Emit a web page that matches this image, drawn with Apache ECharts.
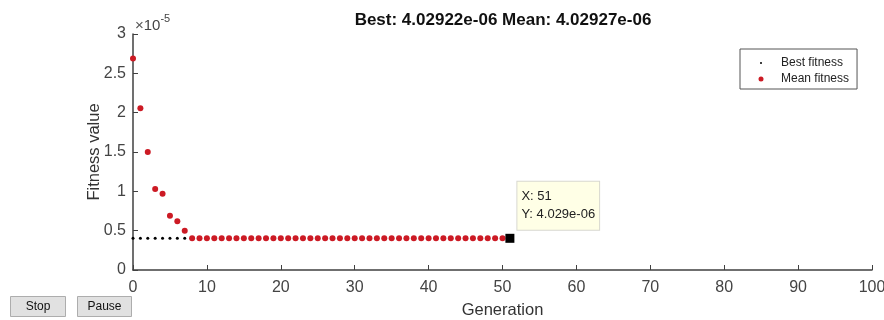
<!DOCTYPE html>
<html>
<head>
<meta charset="utf-8">
<script src="https://cdn.jsdelivr.net/npm/echarts@6/dist/echarts.min.js"></script>
<style>
  html, body { margin: 0; padding: 0; background: #fff; }
  #chart { width: 884px; height: 320px; }
</style>
</head>
<body>
<div id="chart"></div>
<script>
// generations 0..51
var generations = [];
for (var g = 0; g <= 51; g++) generations.push(g);

// mean fitness (units of 1e-5 applied below)
var meanHead = [2.69, 2.055, 1.50, 1.03, 0.97, 0.69, 0.62, 0.50];
var meanTail = 0.403;
var bestValue = 0.403;
var scale = 1e-5;

var meanData = generations.map(function (g) {
  var v = g < meanHead.length ? meanHead[g] : meanTail;
  return [g, v * scale];
});
var bestData = generations.map(function (g) { return [g, bestValue * scale]; });

var cursorPoint = [51, 4.029e-6];
var titleText = 'Best: 4.02922e-06 Mean: 4.02927e-06';

var font = '"Liberation Sans", Arial, sans-serif';
var axisColor = '#404040';

var chart = echarts.init(document.getElementById('chart'));
var option = {
  backgroundColor: '#fff',
  animation: false,
  textStyle: { fontFamily: font },
  title: {
    text: titleText,
    left: 498, top: 7, textAlign: 'center',
    textStyle: { fontFamily: font, fontSize: 17, fontWeight: 'bold', color: '#111' }
  },
  legend: {
    orient: 'vertical',
    left: 740, top: 49,
    padding: [8, 8, 4, 6],
    itemGap: 4,
    itemWidth: 30, itemHeight: 10,
    borderColor: '#555', borderWidth: 1, borderRadius: 0,
    backgroundColor: '#fff',
    textStyle: { fontFamily: font, fontSize: 12, color: '#222' },
    data: [
      { name: 'Best fitness', icon: 'path://M0 0M30 10M14 5a1 1 0 1 0 2 0a1 1 0 1 0 -2 0z' },
      { name: 'Mean fitness', icon: 'path://M0 0M30 10M12.5 5a2.5 2.5 0 1 0 5 0a2.5 2.5 0 1 0 -5 0z' }
    ]
  },
  grid: { left: 133, right: 12, top: 34, bottom: 50, outerBoundsMode: 'none', containLabel: false },
  xAxis: {
    type: 'value', min: 0, max: 100, interval: 10,
    name: 'Generation', nameLocation: 'middle', nameGap: 32, nameMoveOverlap: false,
    nameTextStyle: { fontFamily: font, fontSize: 16.5, color: '#333' },
    axisLine: { lineStyle: { color: axisColor, width: 1.5 } },
    axisTick: { inside: true, length: 5, lineStyle: { color: axisColor } },
    axisLabel: { fontFamily: font, fontSize: 16, color: '#444', margin: 10 },
    splitLine: { show: false }
  },
  yAxis: {
    type: 'value', min: 0, max: 3e-5, interval: 0.5e-5,
    name: 'Fitness value', nameLocation: 'middle', nameGap: 30, nameMoveOverlap: false,
    nameTextStyle: { fontFamily: font, fontSize: 16.5, color: '#333' },
    axisLine: { show: true, lineStyle: { color: axisColor, width: 1.5 } },
    axisTick: { show: true, inside: true, length: 5, lineStyle: { color: axisColor } },
    axisLabel: {
      fontFamily: font, fontSize: 16, color: '#444', margin: 7,
      formatter: function (v) { return String(+(v / scale).toFixed(2)); }
    },
    splitLine: { show: false }
  },
  series: [
    {
      name: 'Best fitness', type: 'scatter', data: bestData,
      symbol: 'circle', symbolSize: 3,
      itemStyle: { color: '#000', opacity: 1 }, z: 2
    },
    {
      name: 'Mean fitness', type: 'scatter', data: meanData,
      symbol: 'circle', symbolSize: 6,
      itemStyle: { color: '#cc1a24', opacity: 1 }, z: 3
    },
    {
      name: 'cursor', type: 'scatter', data: [cursorPoint],
      symbol: 'rect', symbolSize: 9,
      itemStyle: { color: '#000', opacity: 1 }, z: 5,
      label: {
        show: true, position: [12, -52],
        formatter: function (p) {
          return 'X: ' + p.value[0] + '\nY: ' + p.value[1].toExponential(3).replace('e-6', 'e-06');
        },
        fontFamily: font, fontSize: 13, color: '#222', lineHeight: 18,
        backgroundColor: '#ffffe6', borderColor: '#d8d8d0', borderWidth: 1,
        padding: [6, 4, 6, 4], align: 'left'
      }
    }
  ],
  graphic: [
    {
      type: 'text', left: 135, top: 13,
      style: {
        text: '{x|×}{b|10}{s|-5}',
        rich: {
          x: { fontFamily: font, fontSize: 15, fill: '#555', padding: [5, 0, 0, 0] },
          b: { fontFamily: font, fontSize: 15, fill: '#444', padding: [5, 0, 0, 0] },
          s: { fontFamily: font, fontSize: 11, fill: '#444', verticalAlign: 'top' }
        }
      }
    },
    {
      type: 'group', left: 10, top: 296,
      children: [
        { type: 'rect', shape: { x: 0, y: 0, width: 55, height: 20 },
          style: { fill: '#e1e1e1', stroke: '#adadad', lineWidth: 1 } },
        { type: 'text', x: 27.5, y: 10,
          style: { text: 'Stop', fontFamily: font, fontSize: 12, fill: '#111', align: 'center', verticalAlign: 'middle' } }
      ]
    },
    {
      type: 'group', left: 77, top: 296,
      children: [
        { type: 'rect', shape: { x: 0, y: 0, width: 54, height: 20 },
          style: { fill: '#e1e1e1', stroke: '#adadad', lineWidth: 1 } },
        { type: 'text', x: 27, y: 10,
          style: { text: 'Pause', fontFamily: font, fontSize: 12, fill: '#111', align: 'center', verticalAlign: 'middle' } }
      ]
    }
  ]
};
chart.setOption(option);
</script>
</body>
</html>
